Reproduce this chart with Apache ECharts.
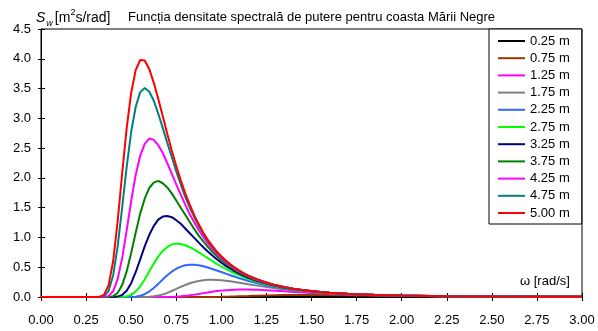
<!DOCTYPE html>
<html>
<head>
<meta charset="utf-8">
<script src="https://cdn.jsdelivr.net/npm/echarts@6/dist/echarts.min.js"></script>
<style>
  html, body { margin: 0; padding: 0; background: #fff; }
  #chart { width: 598px; height: 331px; }
</style>
</head>
<body>
<div id="chart"></div>
<script>
// frecventa unghiulara (rad/s)
var omega = [0, 0.1, 0.2, 0.3, 0.325, 0.35, 0.375, 0.4, 0.425, 0.45,
    0.475, 0.5, 0.525, 0.55, 0.575, 0.6, 0.625, 0.65, 0.675, 0.7,
    0.725, 0.75, 0.775, 0.8, 0.825, 0.85, 0.875, 0.9, 0.925, 0.95,
    0.975, 1.0, 1.025, 1.05, 1.075, 1.1, 1.125, 1.15, 1.175, 1.2,
    1.25, 1.3, 1.35, 1.4, 1.45, 1.5, 1.55, 1.6, 1.65, 1.7,
    1.75, 1.8, 1.85, 1.9, 1.95, 2.0, 2.25, 2.5, 2.75, 3.0];

var heights = ["0.25 m", "0.75 m", "1.25 m", "1.75 m", "2.25 m", "2.75 m",
    "3.25 m", "3.75 m", "4.25 m", "4.75 m", "5.00 m"];
var colors = ["#000000", "#993300", "#ff00ff", "#808080", "#3366ff", "#00ff00",
    "#000080", "#008000", "#ff00ff", "#008080", "#ff0000"];

// S(w), cate o lista pentru fiecare inaltime
var s025 = [0, 0, 0, 0, 0, 0, 0, 0, 0, 0,
    0, 0, 0, 0, 0, 0, 0, 0, 0, 0,
    0, 0, 0, 0, 0, 0, 0, 0, 0, 0,
    0, 0, 0, 0, 0, 0, 0, 0, 0, 0,
    0, 0, 0, 0, 0, 0, 0, 0, 0, 0,
    0, 0, 0.0005, 0.0007, 0.0009, 0.0011, 0.002, 0.0022, 0.0021, 0.0017];
var s075 = [0, 0, 0, 0, 0, 0, 0, 0, 0, 0,
    0, 0, 0, 0, 0, 0, 0, 0, 0, 0,
    0, 0, 0, 0, 0, 0, 0, 0, 0.0006, 0.0012,
    0.002, 0.0032, 0.0048, 0.0067, 0.0089, 0.0114, 0.014, 0.0167, 0.0195, 0.0221,
    0.0268, 0.0305, 0.033, 0.0344, 0.0348, 0.0344, 0.0333, 0.0318, 0.0301, 0.0282,
    0.0262, 0.0242, 0.0223, 0.0204, 0.0187, 0.0171, 0.0108, 0.0069, 0.0044, 0.003];
var s125 = [0, 0, 0, 0, 0, 0, 0, 0, 0, 0,
    0, 0, 0, 0, 0, 0, 0, 0, 0, 0.001,
    0.003, 0.006, 0.012, 0.019, 0.029, 0.040, 0.052, 0.065, 0.077, 0.089,
    0.099, 0.107, 0.114, 0.119, 0.123, 0.124, 0.125, 0.124, 0.122, 0.120,
    0.113, 0.104, 0.095, 0.086, 0.077, 0.069, 0.061, 0.054, 0.048, 0.043,
    0.038, 0.034, 0.030, 0.027, 0.024, 0.021, 0.012, 0.007, 0.005, 0.003];
var s175 = [0, 0, 0, 0, 0, 0, 0, 0, 0, 0,
    0, 0, 0, 0, 0.001, 0.004, 0.011, 0.024, 0.043, 0.070,
    0.101, 0.135, 0.170, 0.202, 0.230, 0.253, 0.270, 0.282, 0.288, 0.290,
    0.287, 0.282, 0.274, 0.264, 0.253, 0.241, 0.228, 0.215, 0.203, 0.191,
    0.167, 0.146, 0.127, 0.110, 0.096, 0.083, 0.072, 0.063, 0.055, 0.048,
    0.042, 0.037, 0.033, 0.029, 0.025, 0.023, 0.013, 0.008, 0.005, 0.003];
var s225 = [0, 0, 0, 0, 0, 0, 0, 0, 0, 0,
    0, 0.001, 0.006, 0.020, 0.047, 0.091, 0.150, 0.220, 0.293, 0.364,
    0.425, 0.474, 0.510, 0.532, 0.542, 0.541, 0.532, 0.516, 0.495, 0.471,
    0.446, 0.419, 0.392, 0.366, 0.340, 0.315, 0.292, 0.270, 0.250, 0.231,
    0.197, 0.168, 0.143, 0.122, 0.105, 0.090, 0.077, 0.067, 0.058, 0.050,
    0.044, 0.038, 0.034, 0.030, 0.026, 0.023, 0.013, 0.008, 0.005, 0.003];
var s275 = [0, 0, 0, 0, 0, 0, 0, 0, 0, 0.002,
    0.011, 0.036, 0.091, 0.179, 0.295, 0.428, 0.560, 0.678, 0.773, 0.840,
    0.880, 0.896, 0.891, 0.869, 0.836, 0.795, 0.749, 0.701, 0.652, 0.604,
    0.557, 0.512, 0.471, 0.431, 0.395, 0.362, 0.331, 0.303, 0.278, 0.254,
    0.214, 0.180, 0.152, 0.129, 0.110, 0.094, 0.080, 0.069, 0.060, 0.052,
    0.045, 0.039, 0.034, 0.030, 0.027, 0.023, 0.013, 0.008, 0.005, 0.003];
var s325 = [0, 0, 0, 0, 0, 0, 0, 0.001, 0.007, 0.034,
    0.104, 0.232, 0.416, 0.632, 0.851, 1.04, 1.19, 1.30, 1.35, 1.36,
    1.34, 1.29, 1.23, 1.15, 1.07, 0.993, 0.913, 0.836, 0.763, 0.696,
    0.633, 0.575, 0.523, 0.475, 0.431, 0.392, 0.356, 0.324, 0.295, 0.269,
    0.224, 0.187, 0.157, 0.133, 0.112, 0.096, 0.082, 0.070, 0.061, 0.052,
    0.045, 0.040, 0.035, 0.030, 0.027, 0.024, 0.013, 0.008, 0.005, 0.003];
var s375 = [0, 0, 0, 0, 0, 0, 0.002, 0.014, 0.068, 0.20,
    0.43, 0.74, 1.08, 1.40, 1.65, 1.83, 1.92, 1.95, 1.91, 1.84,
    1.74, 1.62, 1.50, 1.38, 1.26, 1.14, 1.03, 0.934, 0.843, 0.760,
    0.686, 0.619, 0.558, 0.504, 0.455, 0.412, 0.373, 0.338, 0.306, 0.278,
    0.231, 0.192, 0.161, 0.135, 0.114, 0.097, 0.083, 0.071, 0.061, 0.053,
    0.046, 0.040, 0.035, 0.031, 0.027, 0.024, 0.013, 0.008, 0.005, 0.003];
var s425 = [0, 0, 0, 0, 0, 0.002, 0.019, 0.096, 0.30, 0.65,
    1.12, 1.61, 2.05, 2.37, 2.57, 2.66, 2.64, 2.55, 2.42, 2.25,
    2.07, 1.89, 1.72, 1.55, 1.39, 1.25, 1.12, 1.01, 0.90, 0.807,
    0.724, 0.649, 0.583, 0.524, 0.472, 0.425, 0.384, 0.347, 0.314, 0.285,
    0.235, 0.195, 0.163, 0.137, 0.116, 0.098, 0.084, 0.072, 0.062, 0.053,
    0.046, 0.040, 0.035, 0.031, 0.027, 0.024, 0.013, 0.008, 0.005, 0.003];
var s475 = [0, 0, 0, 0, 0.001, 0.016, 0.104, 0.361, 0.85, 1.50,
    2.18, 2.77, 3.19, 3.44, 3.51, 3.45, 3.30, 3.08, 2.84, 2.59,
    2.35, 2.11, 1.89, 1.68, 1.50, 1.34, 1.19, 1.06, 0.946, 0.845,
    0.752, 0.674, 0.604, 0.543, 0.488, 0.437, 0.395, 0.354, 0.323, 0.295,
    0.242, 0.200, 0.168, 0.140, 0.119, 0.099, 0.085, 0.072, 0.063, 0.054,
    0.047, 0.041, 0.036, 0.032, 0.028, 0.024, 0.013, 0.008, 0.005, 0.003];
var s500 = [0, 0, 0, 0, 0.003, 0.04, 0.20, 0.60, 1.27, 2.07,
    2.83, 3.43, 3.81, 3.98, 3.97, 3.83, 3.60, 3.33, 3.04, 2.74,
    2.46, 2.20, 1.96, 1.74, 1.55, 1.37, 1.22, 1.08, 0.96, 0.86,
    0.76, 0.685, 0.613, 0.549, 0.492, 0.443, 0.397, 0.36, 0.328, 0.296,
    0.243, 0.200, 0.166, 0.140, 0.117, 0.101, 0.085, 0.073, 0.063, 0.054,
    0.047, 0.042, 0.036, 0.032, 0.027, 0.024, 0.013, 0.008, 0.005, 0.003];

var spectra = [s025, s075, s125, s175, s225, s275, s325, s375, s425, s475, s500];

var xTicks = [0, 0.25, 0.5, 0.75, 1, 1.25, 1.5, 1.75, 2, 2.25, 2.5, 2.75, 3];
var yTicks = [0, 0.5, 1, 1.5, 2, 2.5, 3, 3.5, 4, 4.5];

var font = "'Liberation Sans', Arial, sans-serif";

var series = [];
heights.forEach(function(name, k) {
    series.push({
        name: name,
        type: 'line',
        symbol: 'none',
        xAxisIndex: 0,
        yAxisIndex: 0,
        lineStyle: { color: colors[k], width: 2 },
        itemStyle: { color: colors[k] },
        data: omega.map(function(w, i) { return [w, spectra[k][i]]; })
    });
});

function xAxisDef(inside, showLabel) {
    return {
        type: 'value',
        position: 'bottom',
        min: xTicks[0],
        max: xTicks[xTicks.length - 1],
        interval: 0.25,
        axisLine: { show: !inside, lineStyle: { color: '#000', width: 1 } },
        axisTick: { show: true, inside: inside, length: 4, lineStyle: { color: '#000' } },
        axisLabel: {
            show: showLabel, color: '#000', fontSize: 13, fontFamily: font, margin: 17,
            formatter: function(v) { return v.toFixed(2); }
        },
        splitLine: { show: false }
    };
}

function yAxisDef(inside, showLabel) {
    return {
        type: 'value',
        position: 'left',
        min: yTicks[0],
        max: yTicks[yTicks.length - 1],
        interval: 0.5,
        axisLine: { show: !inside, lineStyle: { color: '#000', width: 1 } },
        axisTick: { show: true, inside: inside, length: inside ? 4 : 3, lineStyle: { color: '#000' } },
        axisLabel: {
            show: showLabel, color: '#000', fontSize: 13, fontFamily: font, margin: 10,
            formatter: function(v) { return v.toFixed(1); }
        },
        splitLine: { show: false }
    };
}

var chart = echarts.init(document.getElementById('chart'), null, { renderer: 'canvas' });
chart.setOption({
    animation: false,
    backgroundColor: '#fff',
    textStyle: { fontFamily: font },
    title: [{
        text: 'Funcția densitate spectrală de putere pentru coasta Mării Negre',
        left: 123,
        top: 6,
        textStyle: { fontSize: 13, fontWeight: 'normal', color: '#000', fontFamily: font }
    }, {
        text: '{s|S}{w|w}{n|[m}{sup|2}{n|s/rad]}',
        left: 31,
        top: 3,
        textStyle: {
            fontWeight: 'normal',
            rich: {
                s: { fontSize: 14, fontStyle: 'italic', fontWeight: 'normal', color: '#000', fontFamily: font, lineHeight: 20 },
                w: { fontSize: 9, fontStyle: 'italic', fontWeight: 'normal', color: '#000', fontFamily: font, verticalAlign: 'bottom', lineHeight: 20, padding: [0, 2, 0, 1] },
                n: { fontSize: 14, fontWeight: 'normal', color: '#000', fontFamily: font, lineHeight: 20 },
                sup: { fontSize: 9, fontWeight: 'normal', color: '#000', fontFamily: font, verticalAlign: 'top', lineHeight: 20 }
            }
        }
    }, {
        text: 'ω [rad/s]',
        left: 515,
        top: 270,
        textStyle: { fontSize: 13, fontWeight: 'normal', color: '#000', fontFamily: font }
    }],
    legend: {
        orient: 'vertical',
        left: 489,
        top: 29,
        padding: [5, 12, 4, 9],
        icon: 'rect',
        itemWidth: 27,
        itemHeight: 2,
        itemGap: 3.2,
        backgroundColor: '#fff',
        borderColor: '#000',
        borderWidth: 1,
        borderRadius: 0,
        textStyle: { fontSize: 13, color: '#000', fontFamily: font, lineHeight: 14 },
        data: heights
    },
    grid: {
        left: 41,
        right: 16,
        top: 29,
        bottom: 34,
        show: true,
        borderColor: '#000',
        borderWidth: 1,
        backgroundColor: 'transparent'
    },
    xAxis: [xAxisDef(false, true), xAxisDef(true, false)],
    yAxis: [yAxisDef(false, true), yAxisDef(true, false)],
    series: series
});
</script>
</body>
</html>
